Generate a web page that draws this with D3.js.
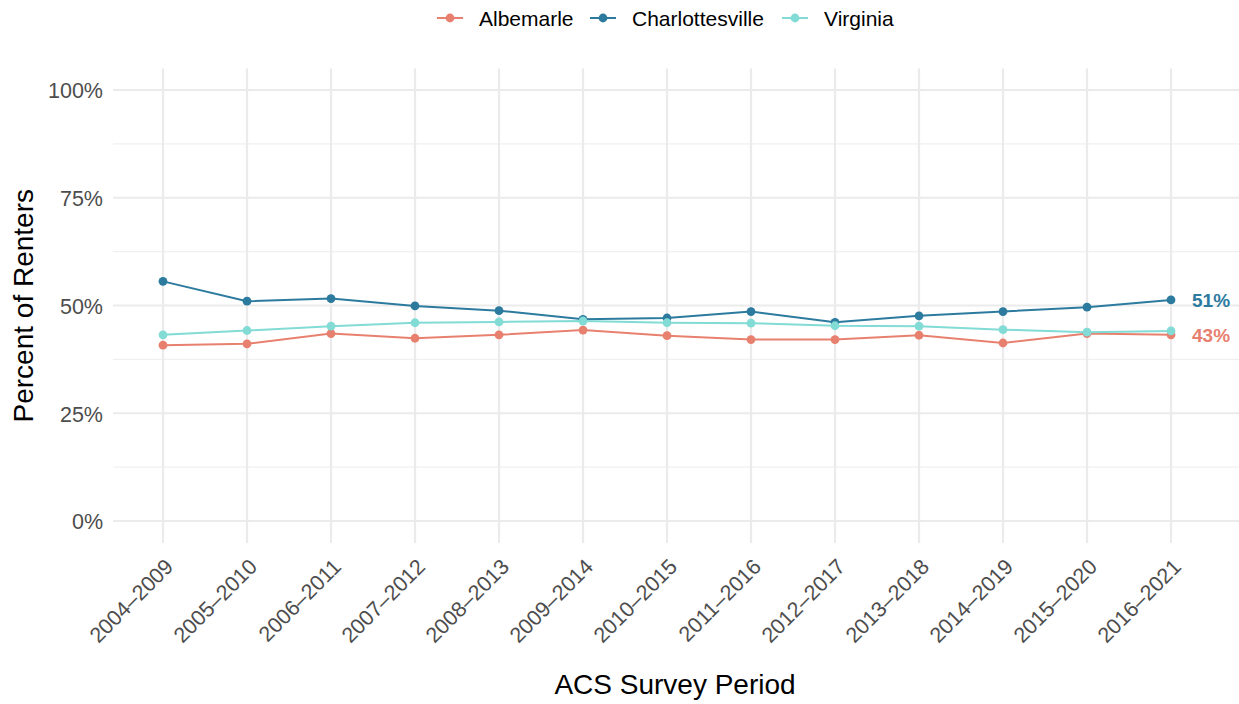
<!DOCTYPE html>
<html>
<head>
<meta charset="utf-8">
<script src="https://cdn.jsdelivr.net/npm/d3@7"></script>
<style>
  body { margin: 0; background: #fff; }
  svg { display: block; font-family: "Liberation Sans", Arial, sans-serif; }
</style>
</head>
<body>
<svg id="chart" width="1239" height="704"></svg>
<script>
const periods = ["2004–2009","2005–2010","2006–2011","2007–2012","2008–2013","2009–2014","2010–2015","2011–2016","2012–2017","2013–2018","2014–2019","2015–2020","2016–2021"];
const albemarle = [40.8, 41.1, 43.5, 42.4, 43.2, 44.3, 43.0, 42.1, 42.1, 43.1, 41.3, 43.5, 43.2];
const charlottesville = [55.6, 51.0, 51.6, 49.9, 48.8, 46.8, 47.1, 48.6, 46.1, 47.6, 48.6, 49.6, 51.3];
const virginia = [43.2, 44.2, 45.2, 46.0, 46.2, 46.4, 46.0, 45.9, 45.3, 45.2, 44.4, 43.8, 44.1];
const seriesNames = ["Albemarle", "Charlottesville", "Virginia"];
const seriesColors = ["#e8806f", "#2c7b9f", "#82dbd5"];
const yTicks = [0, 25, 50, 75, 100];
const yMinor = [12.5, 37.5, 62.5, 87.5];
const endLabels = ["Charlottesville", "Albemarle"];

const series = [
  {name: seriesNames[0], color: seriesColors[0], values: albemarle},
  {name: seriesNames[1], color: seriesColors[1], values: charlottesville},
  {name: seriesNames[2], color: seriesColors[2], values: virginia}
];

const svg = d3.select("#chart");
const panel = {left: 113, right: 1239, top: 68.5, bottom: 543};

const x = d3.scalePoint().domain(periods).range([163, 1171]);
const y = d3.scaleLinear().domain([0, 100]).range([521, 90]);

const grid = svg.append("g");
grid.selectAll("line.ymin").data(yMinor).join("line")
  .attr("x1", panel.left).attr("x2", panel.right)
  .attr("y1", d => y(d)).attr("y2", d => y(d))
  .attr("stroke", "#f0f0f0").attr("stroke-width", 1.1);
grid.selectAll("line.ymaj").data(yTicks).join("line")
  .attr("x1", panel.left).attr("x2", panel.right)
  .attr("y1", d => y(d)).attr("y2", d => y(d))
  .attr("stroke", "#ebebeb").attr("stroke-width", 2.2);
grid.selectAll("line.xmaj").data(periods).join("line")
  .attr("x1", d => x(d)).attr("x2", d => x(d))
  .attr("y1", panel.top).attr("y2", panel.bottom)
  .attr("stroke", "#ebebeb").attr("stroke-width", 2.2);

const yAxis = d3.axisLeft(y).tickValues(yTicks).tickFormat(d => d + "%").tickSize(0).tickPadding(10);
const yg = svg.append("g").attr("transform", `translate(${panel.left},0)`).call(yAxis);
yg.select(".domain").remove();
yg.selectAll("text").attr("fill", "#4d4d4d").style("font-size", "21.5px").attr("dy", "0.36em");

const xAxis = d3.axisBottom(x).tickSize(0).tickPadding(0);
const xg = svg.append("g").attr("transform", `translate(0,${panel.bottom})`).call(xAxis);
xg.select(".domain").remove();
xg.selectAll("text")
  .attr("fill", "#4d4d4d").style("font-size", "21.5px")
  .attr("text-anchor", "end")
  .attr("y", 0).attr("dy", 0)
  .attr("transform", "translate(11,25) rotate(-45)");

const line = d3.line().x((d, i) => x(periods[i])).y(d => y(d));
const sg = svg.append("g");
series.forEach(s => {
  sg.append("path").datum(s.values)
    .attr("d", line).attr("fill", "none")
    .attr("stroke", s.color).attr("stroke-width", 2);
  sg.selectAll(null).data(s.values).join("circle")
    .attr("cx", (d, i) => x(periods[i])).attr("cy", d => y(d))
    .attr("r", 4.4).attr("fill", s.color);
});

endLabels.forEach(name => {
  const s = series.find(t => t.name === name);
  const v = s.values[s.values.length - 1];
  svg.append("text")
    .attr("x", x(periods[periods.length - 1]) + 21)
    .attr("y", y(v)).attr("dy", "0.36em")
    .attr("fill", s.color).style("font-size", "19px").style("font-weight", "bold")
    .text(Math.round(v) + "%");
});

svg.append("text").attr("x", 675).attr("y", 694)
  .attr("text-anchor", "middle").style("font-size", "28px").attr("fill", "#000")
  .text("ACS Survey Period");
svg.append("text")
  .attr("transform", `translate(33,${(panel.top + panel.bottom) / 2}) rotate(-90)`)
  .attr("text-anchor", "middle").style("font-size", "28px").attr("fill", "#000")
  .text("Percent of Renters");

const legendX = [437, 590, 782];
const lg = svg.append("g");
series.forEach((s, i) => {
  const g = lg.append("g").attr("transform", `translate(${legendX[i]},18)`);
  g.append("line").attr("x1", 0).attr("x2", 26).attr("y1", 0).attr("y2", 0)
    .attr("stroke", s.color).attr("stroke-width", 2);
  g.append("circle").attr("cx", 13).attr("cy", 0).attr("r", 4.4).attr("fill", s.color);
  g.append("text").attr("x", 42).attr("y", 0).attr("dy", "0.36em")
    .style("font-size", "21px").attr("fill", "#000").text(s.name);
});
</script>
</body>
</html>
